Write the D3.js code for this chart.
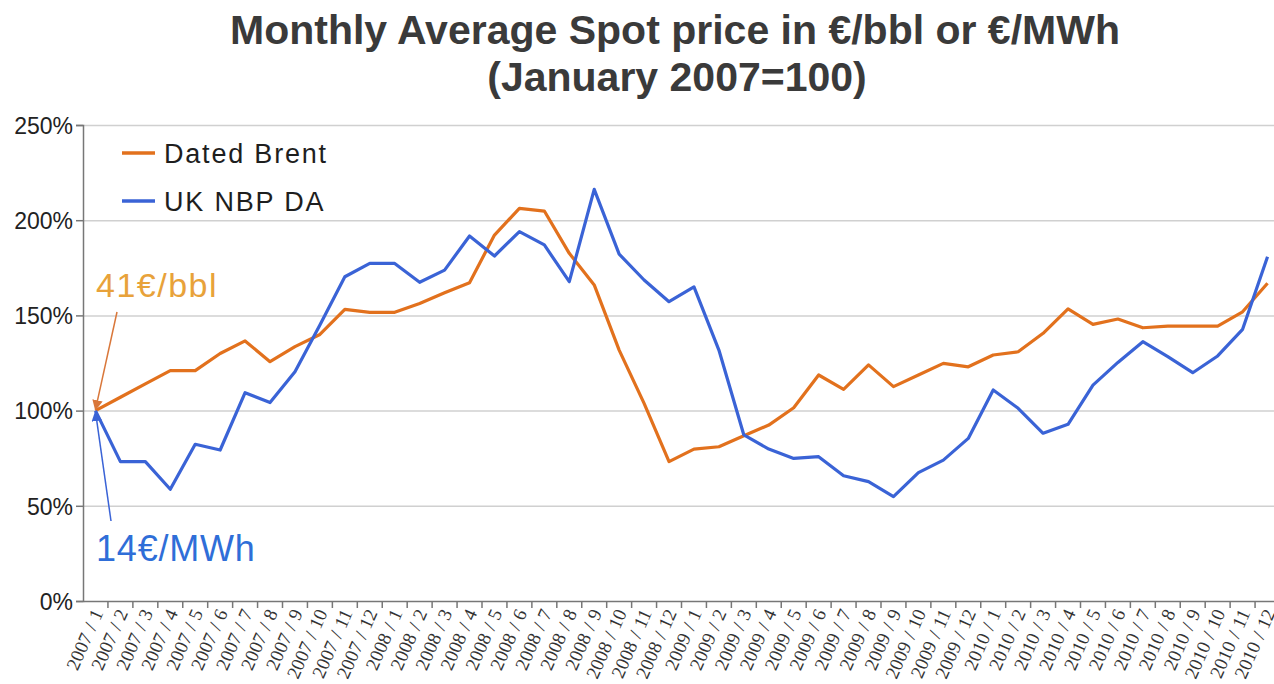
<!DOCTYPE html>
<html>
<head>
<meta charset="utf-8">
<script src="https://cdn.jsdelivr.net/npm/d3@7"></script>
<style>
  body { margin: 0; background: #fff; }
  .grid line { stroke: #d0d0d0; stroke-width: 1.5; }
  .grid .domain { display: none; }
  .yaxis text { font-family: "Liberation Sans", Arial, sans-serif; font-size: 23px; fill: #222; }
  .xaxis text { font-family: "Liberation Serif", "Times New Roman", serif; font-size: 19px; fill: #333; }
  .yaxis path, .yaxis line, .xaxis path, .xaxis line { stroke: #777; stroke-width: 1.5; }
</style>
</head>
<body>
<div id="chart"></div>
<script>
// months on the x axis
let years = [2007, 2008, 2009, 2010];
let months = [];
years.forEach(function (y) {
  for (let m = 1; m <= 12; m++) months.push(y + " / " + m);
});

// series values, % of January 2007
let brent = [100, 107, 114, 121, 121, 130, 136.6, 125.7, 133.6, 140, 153.2, 151.6,
  151.6, 156.3, 161.9, 167.2, 192.2, 206.2, 204.8, 182.6, 166, 131.8, 103.8, 73.2,
  79.8, 81, 86.8, 92.4, 101.5, 118.7, 111.2, 124, 112.6, 118.7, 124.8, 123,
  129.2, 130.9, 140.6, 153.4, 145.3, 148.1, 143.5, 144.4, 144.4, 144.4, 151.9, 166.9];

let nbp = [100, 73.2, 73.2, 58.7, 82.3, 79.3, 109.4, 104.2, 120.4, 145, 170.3, 177.3,
  177.3, 167.4, 173.8, 191.7, 181.2, 194, 187, 167.7, 216.2, 182.2, 168.6, 157.2,
  165, 131.8, 87.2, 79.8, 74.9, 75.8, 65.8, 62.7, 54.8, 67.4, 74, 85.4,
  110.8, 101.2, 88.1, 92.8, 113.4, 125.3, 136.2, 128.3, 119.9, 128.7, 142.7, 180.8];

let yTicks = [0, 50, 100, 150, 200, 250];
let seriesNames = ["Dated Brent", "UK NBP DA"];
let seriesColors = ["#E2711D", "#3A63D6"];

let width = 1274, height = 684;

let svg = d3.select("#chart").append("svg")
  .attr("width", width)
  .attr("height", height);

// title
svg.append("text")
  .attr("x", 675).attr("y", 44)
  .attr("text-anchor", "middle")
  .style("font-family", "'Liberation Sans', Arial, sans-serif")
  .style("font-size", "41px").style("font-weight", "bold").style("fill", "#3a3a3a")
  .text("Monthly Average Spot price in €/bbl or €/MWh");
svg.append("text")
  .attr("x", 677).attr("y", 91)
  .attr("text-anchor", "middle")
  .style("font-family", "'Liberation Sans', Arial, sans-serif")
  .style("font-size", "41px").style("font-weight", "bold").style("fill", "#3a3a3a")
  .text("(January 2007=100)");

// scales
let x = d3.scaleBand().domain(months).range([83, 1280]);
let y = d3.scaleLinear().domain([0, 250]).range([601, 125]);

// gridlines
svg.append("g")
  .attr("class", "grid")
  .attr("transform", "translate(83,0)")
  .call(d3.axisRight(y).tickValues(yTicks.slice(1)).tickSize(1200).tickFormat(""));

// y axis
svg.append("g")
  .attr("class", "yaxis")
  .attr("transform", "translate(83,0)")
  .call(d3.axisLeft(y).tickValues(yTicks).tickSize(7).tickPadding(3)
    .tickFormat(function (d) { return d + "%"; }))
  .call(function (g) { g.selectAll("text").attr("dy", "0.36em"); });

// x axis with ticks between months
let xAxis = svg.append("g")
  .attr("class", "xaxis")
  .attr("transform", "translate(0,601)")
  .call(d3.axisBottom(x).tickSize(0).tickPadding(0));
xAxis.selectAll(".tick text")
  .attr("text-anchor", "end")
  .attr("transform", "translate(2,9) rotate(-66)")
  .attr("dy", "0.35em")
  .attr("y", 0)
  .style("word-spacing", "1px");
xAxis.selectAll(".sep")
  .data(months.slice(1))
  .enter().append("line")
  .attr("x1", function (d) { return x(d); })
  .attr("x2", function (d) { return x(d); })
  .attr("y1", 0).attr("y2", 7);

// lines
let line = d3.line()
  .x(function (d, i) { return x(months[i]) + x.bandwidth() / 2; })
  .y(function (d) { return y(d); });

[brent, nbp].forEach(function (s, k) {
  svg.append("path")
    .datum(s)
    .attr("fill", "none")
    .attr("stroke", seriesColors[k])
    .attr("stroke-width", 3.2)
    .attr("stroke-linejoin", "round")
    .attr("d", line);
});

// legend
seriesNames.forEach(function (name, k) {
  let ly = 153 + k * 48;
  svg.append("line")
    .attr("x1", 122).attr("x2", 155).attr("y1", ly).attr("y2", ly)
    .attr("stroke", seriesColors[k]).attr("stroke-width", 3.5);
  svg.append("text")
    .attr("x", 164).attr("y", ly + 10)
    .style("font-family", "'Liberation Sans', Arial, sans-serif")
    .style("font-size", "27px").style("fill", "#1e1e1e")
    .style("letter-spacing", "1.8px")
    .text(name);
});

// annotations with arrows
let defs = svg.append("defs");
[["arrO", "#D9773A"], ["arrB", "#3A63D6"]].forEach(function (a) {
  defs.append("marker")
    .attr("id", a[0])
    .attr("viewBox", "0 0 10 10")
    .attr("refX", 9).attr("refY", 5)
    .attr("markerWidth", 7).attr("markerHeight", 7)
    .attr("orient", "auto")
    .append("path").attr("d", "M0,0L10,5L0,10z").attr("fill", a[1]);
});

let x0 = x(months[0]) + x.bandwidth() / 2;

svg.append("line")
  .attr("x1", 117).attr("y1", 312)
  .attr("x2", x0).attr("y2", y(brent[0]) - 1)
  .attr("stroke", "#D9773A").attr("stroke-width", 1.5)
  .attr("marker-end", "url(#arrO)");
svg.append("text")
  .attr("x", 96).attr("y", 297)
  .style("font-family", "'Liberation Sans', Arial, sans-serif")
  .style("font-size", "34px").style("fill", "#E8A23A")
  .style("letter-spacing", "1.5px")
  .text("41€/bbl");

svg.append("line")
  .attr("x1", 111).attr("y1", 521)
  .attr("x2", x0).attr("y2", y(nbp[0]) + 1)
  .attr("stroke", "#3A63D6").attr("stroke-width", 1.5)
  .attr("marker-end", "url(#arrB)");
svg.append("text")
  .attr("x", 96).attr("y", 561)
  .style("font-family", "'Liberation Sans', Arial, sans-serif")
  .style("font-size", "36px").style("fill", "#2F6ED8")
  .style("letter-spacing", "0.8px")
  .text("14€/MWh");
</script>
</body>
</html>
